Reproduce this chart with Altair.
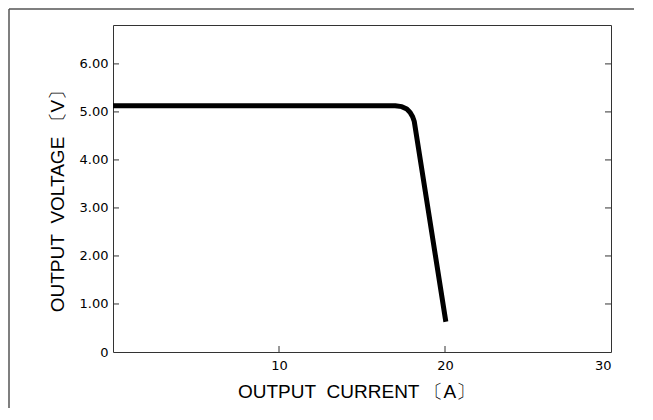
import altair as alt
import pandas as pd

# Curve data (output current in A, output voltage in V)
current = [0.0, 17.0, 17.4, 17.7, 17.9, 18.05, 18.15, 20.05]
voltage = [5.13, 5.13, 5.11, 5.06, 4.99, 4.90, 4.80, 0.63]

y_ticks = [1, 2, 3, 4, 5, 6]
y_labels_at = [0, 1, 2, 3, 4, 5, 6]
x_ticks = [10, 20]
x_labels_at = [10, 20, 30]

W, H = 498, 327
XDOM = [0, 30]
YDOM = [0, 6.81]
PAD = {"left": 105, "top": 17, "right": 26, "bottom": 56}

curve = pd.DataFrame({"current": current, "voltage": voltage})
yt = pd.DataFrame({"v": y_ticks})
xt = pd.DataFrame({"v": x_ticks})
one = pd.DataFrame({"d": [0]})

xscale = alt.Scale(domain=XDOM, nice=False, zero=False)
yscale = alt.Scale(domain=YDOM, nice=False, zero=False)

NB = "\u00a0"

line = alt.Chart(curve).mark_line(
    color="black", strokeWidth=5, strokeJoin="round", strokeCap="butt"
).encode(
    x=alt.X("current:Q", scale=xscale,
            axis=alt.Axis(values=x_labels_at, ticks=False, domain=False, grid=False,
                          labelPadding=7, labelFont="DejaVu Sans", labelFontSize=13,
                          labelColor="black", format="d",
                          title="OUTPUT" + NB + " CURRENT 〔A〕", titleFont="Liberation Sans",
                          titleFontSize=19, titleFontWeight="normal", titleColor="black",
                          titleX=243, titleY=39, titleBaseline="middle")),
    y=alt.Y("voltage:Q", scale=yscale,
            axis=alt.Axis(values=y_labels_at, ticks=False, domain=False, grid=False,
                          labelPadding=5, labelFont="DejaVu Sans", labelFontSize=13,
                          labelColor="black",
                          labelExpr="datum.value == 0 ? '0' : format(datum.value, '.2f')",
                          title="OUTPUT" + NB + " VOLTAGE 〔V〕", titleFont="Liberation Sans",
                          titleFontSize=19, titleFontWeight="normal", titleColor="black",
                          titleX=-56, titleY=171, titleBaseline="middle", titleAngle=270)),
)

tick_style = dict(color="#333", strokeWidth=1)
left_ticks = alt.Chart(yt).mark_rule(**tick_style).encode(
    y=alt.Y("v:Q", scale=yscale), x=alt.value(0), x2=alt.value(6))
right_ticks = alt.Chart(yt).mark_rule(**tick_style).encode(
    y=alt.Y("v:Q", scale=yscale), x=alt.value(W - 6), x2=alt.value(W))
bottom_ticks = alt.Chart(xt).mark_rule(**tick_style).encode(
    x=alt.X("v:Q", scale=xscale), y=alt.value(H), y2=alt.value(H - 6))

frame_left = alt.Chart(one).mark_rule(color="#555", strokeWidth=1.5).encode(
    x=alt.value(-PAD["left"] + 1), y=alt.value(-PAD["top"] + 1), y2=alt.value(H + PAD["bottom"]))
frame_top = alt.Chart(one).mark_rule(color="#555", strokeWidth=1.5).encode(
    x=alt.value(-PAD["left"] + 1), x2=alt.value(W + PAD["right"] - 3), y=alt.value(-PAD["top"] + 1))

chart = alt.layer(
    frame_left, frame_top, left_ticks, right_ticks, bottom_ticks, line
).properties(
    width=W, height=H,
    autosize=alt.AutoSizeParams(type="none"),
    padding=PAD,
    background="white",
).configure_view(
    stroke="#333", strokeWidth=1
)

chart.save("out.html", embed_options={"renderer": "svg", "actions": False})
